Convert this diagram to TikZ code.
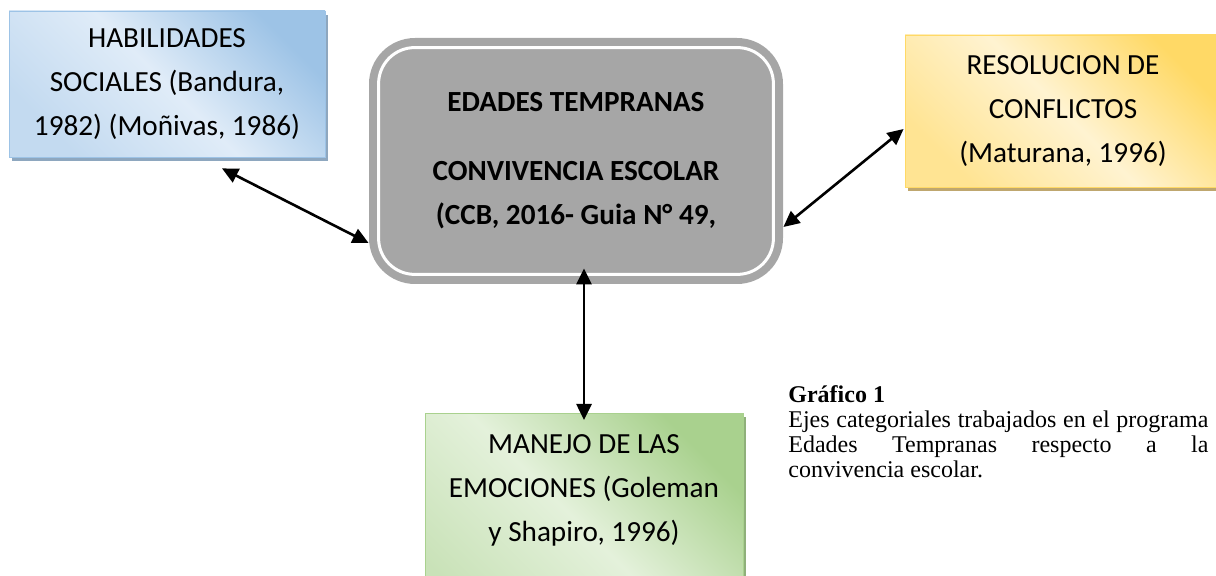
\documentclass[tikz,border=0pt]{standalone}
\usepackage{fontspec}
\setmainfont{Liberation Serif}
\newfontfamily\calibri{Carlito}
\usetikzlibrary{arrows.meta,shadows}

\definecolor{azulD}{HTML}{9DC3E6}
\definecolor{azulM}{HTML}{C3DAF0}
\definecolor{azulL}{HTML}{E0ECF8}
\definecolor{azulS}{HTML}{8EA7BF}
\definecolor{amaD}{HTML}{FFD966}
\definecolor{amaM}{HTML}{FFE493}
\definecolor{amaL}{HTML}{FFF3D1}
\definecolor{amaS}{HTML}{BFA76F}
\definecolor{verD}{HTML}{A9D18E}
\definecolor{verM}{HTML}{C9E2B8}
\definecolor{verL}{HTML}{E4F1DB}
\definecolor{verS}{HTML}{8FB07A}
\definecolor{gris}{HTML}{A6A6A6}

\begin{document}
\begin{tikzpicture}[x=0.5pt, y=-0.5pt,
  caja/.style={minimum width=158pt, inner sep=0pt, align=center,
    font=\calibri\fontsize{14.6}{22}\selectfont},
  degradado/.style n args={4}{draw=#1, top color=#2, bottom color=#1, middle color=#3,
    shading angle=135, general shadow={fill=#4, shadow xshift=1.5pt, shadow yshift=-2pt}},
  enlace/.style={{Triangle[length=8pt,width=7.5pt]}-{Triangle[length=8pt,width=7.5pt]}, line width=1.3pt}]

\useasboundingbox (0,0) rectangle (1216,576);

\node [caja, minimum height=73pt, degradado={azulD}{azulM}{azulL}{azulS}] (H) at (167,84) {HABILIDADES\\SOCIALES (Bandura,\\1982) (Moñivas, 1986)};
\node [caja, minimum height=76pt, degradado={amaD}{amaM}{amaL}{amaS}] (R) at (1063,111) {RESOLUCION DE\\CONFLICTOS\\(Maturana, 1996)};
\node [caja, minimum width=159pt, anchor=north, inner ysep=10.5pt, text depth=40pt, degradado={verD}{verM}{verL}{verS}] (M) at (584,413) {MANEJO DE LAS\\EMOCIONES (Goleman\\y Shapiro, 1996)};

% caja central
\node [caja, font=\calibri\bfseries\fontsize{14.6}{22}\selectfont, fill=gris, rounded corners=23pt, minimum width=207pt, minimum height=123pt] (E) at (576,161) {EDADES TEMPRANAS\\[12.5pt]CONVIVENCIA ESCOLAR\\(CCB, 2016- Guia N° 49,};
\draw [white, line width=1.5pt, rounded corners=18pt] ([shift={(5pt,-5pt)}]E.north west) rectangle ([shift={(-5pt,5pt)}]E.south east);

\draw [enlace] ([xshift=27.5pt, yshift=-5.5pt]H.south) -- ([yshift=-41pt]E.west);
\draw [enlace] ([yshift=-33pt]E.east) -- ([xshift=-0.5pt, yshift=-9pt]R.west);
\draw [enlace] ([xshift=4pt, yshift=8pt]E.south) -- ([yshift=-3.5pt]M.north);

\node [anchor=north west, inner sep=0pt, text width=210pt, align=justify, font=\fontsize{12}{12.5}\selectfont] (G) at (788,385) {\noindent\textbf{Gráfico 1}\\Ejes categoriales trabajados en el programa\linebreak Edades Tempranas respecto a la\linebreak convivencia escolar.};
\end{tikzpicture}
\end{document}
